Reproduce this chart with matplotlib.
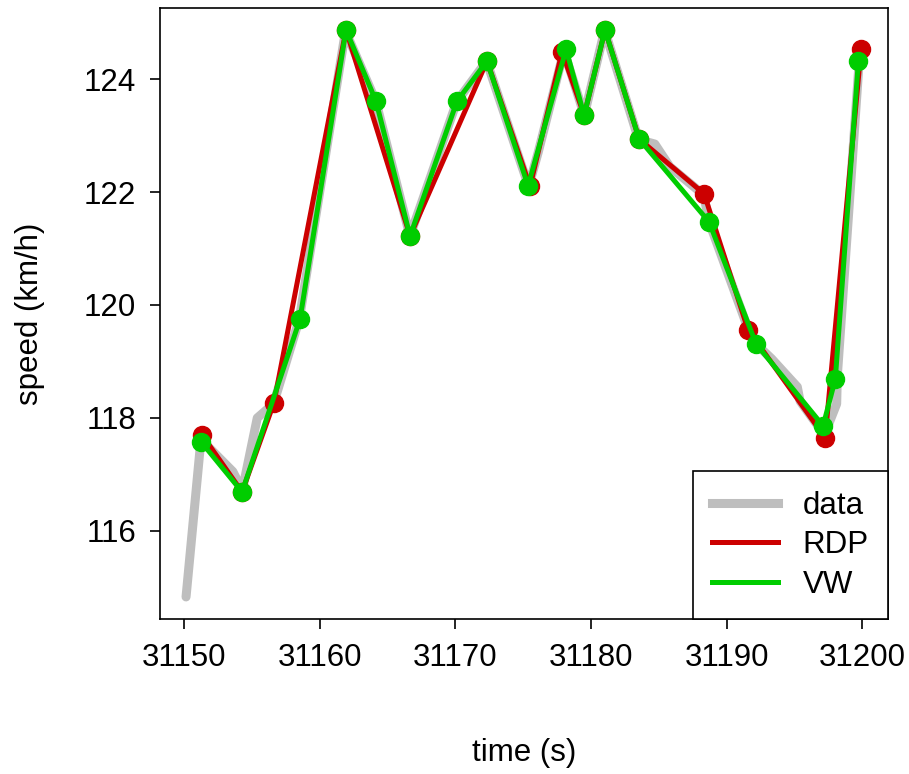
import numpy as np
import matplotlib.pyplot as plt
import matplotlib.lines as mlines

plt.rcParams['font.family'] = ['Liberation Sans', 'DejaVu Sans']

# raw speed trace
data_t = [31150.15, 31151.25, 31153.6, 31154.3, 31155.4, 31156.6, 31158.5,
          31161.9, 31164.15, 31166.65, 31170.1, 31172.3, 31175.4, 31176.1,
          31178.0, 31179.5, 31181.0, 31183.5, 31184.7, 31185.8, 31188.3,
          31188.7, 31191.6, 31192.2, 31193.3, 31195.2, 31195.4, 31197.2,
          31198.1, 31198.15, 31199.8]
data_v = [114.83, 117.62, 117.05, 116.72, 118.0, 118.25, 119.75,
          124.85, 123.6, 121.22, 123.6, 124.32, 122.1, 122.7,
          124.5, 123.36, 124.87, 122.93, 122.85, 122.45, 121.95,
          121.47, 119.56, 119.3, 119.05, 118.55, 118.3, 117.7,
          118.25, 118.75, 124.45]

# Ramer-Douglas-Peucker simplification
rdp_t = [31151.33, 31154.28, 31156.63, 31161.94, 31166.66, 31172.33, 31175.5,
         31177.86, 31179.49, 31181.03, 31183.54, 31188.33, 31191.57, 31197.25,
         31199.9]
rdp_v = [117.70, 116.69, 118.27, 124.87, 121.22, 124.32, 122.1,
         124.48, 123.36, 124.87, 122.94, 121.97, 119.56, 117.65,
         124.53]

# Visvalingam-Whyatt simplification
vw_t = [31151.25, 31154.28, 31158.55, 31161.94, 31164.15, 31166.66, 31170.12,
        31172.33, 31175.36, 31178.16, 31179.49, 31181.03, 31183.54, 31188.7,
        31192.16, 31197.1, 31198.0, 31199.7]
vw_v = [117.58, 116.69, 119.75, 124.87, 123.61, 121.22, 123.61,
        124.32, 122.11, 124.53, 123.36, 124.87, 122.94, 121.47,
        119.31, 117.86, 118.69, 124.32]

labels = ['data', 'RDP', 'VW']
colors = ['#BEBEBE', '#CC0000', '#00CD00']

fig = plt.figure(figsize=(9.09, 7.74), dpi=100)
ax = fig.add_axes([0.176, 0.2003, 0.801, 0.7894])

ax.plot(data_t, data_v, color=colors[0], lw=6.5, solid_capstyle='round',
        solid_joinstyle='round')
ax.plot(rdp_t, rdp_v, color=colors[1], lw=3.6, marker='o', ms=13)
ax.plot(vw_t, vw_v, color=colors[2], lw=3.6, marker='o', ms=13)

ax.set_xlim(31148.23, 31201.89)
ax.set_ylim(114.44, 125.26)
ax.set_xticks([31150, 31160, 31170, 31180, 31190, 31200])
ax.set_yticks([116, 118, 120, 122, 124])
ax.tick_params(labelsize=22.5, length=7, width=1.2, pad=10)
for s in ax.spines.values():
    s.set_linewidth(1.2)

ax.set_xlabel('time (s)', fontsize=22.5, labelpad=47)
ax.set_ylabel('speed (km/h)', fontsize=22.5, labelpad=28)

# legend shows lines only
handles = [mlines.Line2D([], [], color=colors[0], lw=6.5),
           mlines.Line2D([], [], color=colors[1], lw=3.6),
           mlines.Line2D([], [], color=colors[2], lw=3.6)]
leg = ax.legend(handles, labels, loc='lower right', borderaxespad=0,
                fancybox=False, edgecolor='black', framealpha=1,
                fontsize=22.5, handlelength=2.1, handletextpad=0.8,
                labelspacing=0.3, borderpad=0.62)
leg.get_frame().set_linewidth(1.2)

fig.savefig('out.png', dpi=100)
